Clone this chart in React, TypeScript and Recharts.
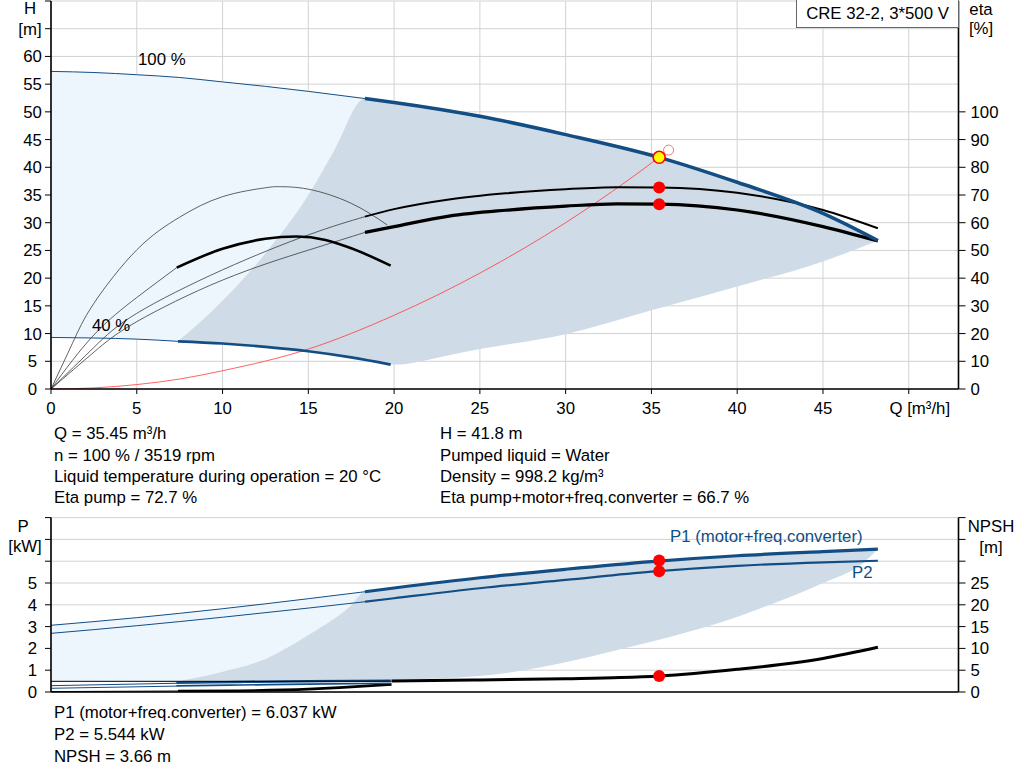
import React from 'react';
import { ComposedChart, Line, Area, XAxis, YAxis, CartesianGrid, ReferenceDot } from 'recharts';

const FONT = '"Liberation Sans", Arial, Helvetica, sans-serif';
const FS = 16.8;
const BLUE = '#124d84';
const LIGHT = '#eef6fd';
const DARK = '#cfdbe6';
const GRID = '#d2d2d2';
const THIN = '#3a3a3a';

// ---------- ticks ----------
const flowTicks = [0, 5, 10, 15, 20, 25, 30, 35, 40, 45, 50];
const headTicks = [0, 5, 10, 15, 20, 25, 30, 35, 40, 45, 50, 55, 60, 65, 70];
const etaTicks = [0, 10, 20, 30, 40, 50, 60, 70, 80, 90, 100];
const powerTicks = [0, 1, 2, 3, 4, 5, 6, 7, 8];
const npshTicks = [0, 5, 10, 15, 20, 25, 30, 35, 40];

// ---------- top chart: head curves (m) ----------
const qh100ThinQ = [0, 2.5, 5, 7.5, 10, 12.5, 15, 18.3];
const qh100ThinH = [57.3, 57.1, 56.7, 56.2, 55.4, 54.6, 53.7, 52.4];
const qh100Q = [18.3, 20, 25, 30, 35.45, 40, 45, 48.2];
const qh100H = [52.4, 51.7, 49.2, 45.9, 41.8, 37.3, 31.7, 26.8];
const qh40ThinQ = [0, 2.5, 5, 7.4];
const qh40ThinH = [9.3, 9.2, 9.0, 8.6];
const qh40Q = [7.4, 10, 12.5, 15, 17.5, 19.8];
const qh40H = [8.6, 8.2, 7.6, 6.8, 5.7, 4.4];

// ---------- top chart: efficiency curves (%) ----------
const etaPump40Q = [0, 1.25, 2.5, 5, 7.5, 10, 12.5, 13.3, 15, 17.5, 19.6];
const etaPump40 = [0, 16.5, 30.9, 50.2, 62.0, 69.4, 72.6, 73.0, 72.1, 67.0, 59.2];
const etaTot40ThinQ = [0, 2.5, 5, 7.33];
const etaTot40Thin = [0, 19.5, 33.0, 43.8];
const etaTot40Q = [7.33, 10, 12.5, 14.3, 16, 17.5, 19.8];
const etaTot40 = [43.8, 50.6, 54.2, 55.0, 53.8, 50.8, 44.5];
const etaPump100ThinQ = [0, 2.5, 5, 10, 15, 18.3];
const etaPump100Thin = [0, 15.0, 27.3, 43, 55.6, 62.2];
const etaPump100Q = [18.3, 20, 23.2, 26.5, 30, 33, 35.45, 40, 45, 48.2];
const etaPump100 = [62.2, 64.9, 68.4, 70.6, 72.1, 72.8, 72.7, 70.8, 64.6, 58.0];
const etaTot100ThinQ = [0, 2.5, 5, 10, 15, 18.3];
const etaTot100Thin = [0, 13.3, 24.3, 39.3, 50.1, 56.5];
const etaTot100Q = [18.3, 20, 23.2, 26.5, 30, 33, 35.45, 40, 45, 48.2];
const etaTot100 = [56.5, 58.6, 62.4, 64.5, 66.0, 66.8, 66.7, 64.6, 58.6, 53.4];

// ---------- system curve ----------
const sysQ = [0, 2.5, 5, 7.5, 10, 15, 20, 25, 30, 35.45, 36.0];
const sysH = [0, 0.2, 0.8, 1.8, 3.3, 7.2, 13.3, 20.9, 30.0, 41.8, 43.1];

// ---------- top chart: regions ----------
const lightQ = [0, 2.5, 5, 7.4, 9.65, 12.5, 15, 16.5, 18.3];
const lightLo = [9.3, 9.2, 9.0, 8.6, 14.85, 24.5, 35.0, 43.0, 52.4];
const lightHi = [57.3, 57.1, 56.7, 56.15, 55.5, 54.6, 53.7, 53.1, 52.4];
const darkQ = [7.4, 9.65, 12.5, 15, 16.5, 18.3, 20, 23.2, 25, 30, 35, 40, 45, 48.2];
const darkLo = [8.6, 8.3, 7.6, 6.8, 6.2, 5.3, 4.4, 6.1, 7.2, 9.9, 14.2, 18.5, 23.0, 26.8];
const darkHi = [8.6, 14.85, 24.5, 35.0, 43.0, 52.4, 51.7, 50.2, 49.2, 45.9, 42.2, 37.3, 31.7, 26.8];

// ---------- duty point ----------
const dutyQ = 35.45;
const dutyH = 41.8;
const dutyEtaPump = 72.7;
const dutyEtaTot = 66.7;
const reqQ = 36.0;
const reqH = 43.1;
const dutyP1 = 6.037;
const dutyP2 = 5.544;
const dutyNpsh = 3.66;

// ---------- bottom chart: power (kW) ----------
const p1ThinQ = [0, 5, 10, 15, 18.3];
const p1Thin = [3.06, 3.41, 3.82, 4.28, 4.6];
const p1Q = [18.3, 20, 25, 30, 35, 40, 45, 48.2];
const p1 = [4.6, 4.77, 5.24, 5.63, 5.98, 6.25, 6.44, 6.55];
const p2ThinQ = [0, 5, 10, 15, 18.3];
const p2Thin = [2.69, 3.04, 3.43, 3.85, 4.14];
const p2Q = [18.3, 20, 25, 30, 35, 40, 45, 48.2];
const p2 = [4.14, 4.3, 4.76, 5.14, 5.52, 5.79, 5.95, 6.02];
const p1MinThinQ = [0, 7.3];
const p1MinThin = [0.29, 0.4];
const p1MinQ = [7.3, 11, 15, 19.8];
const p1Min = [0.42, 0.46, 0.49, 0.52];
const p2MinThinQ = [0, 7.3];
const p2MinThin = [0.17, 0.27];
const p2MinQ = [7.3, 11, 15, 19.8];
const p2Min = [0.28, 0.32, 0.36, 0.4];

// ---------- bottom chart: NPSH (m) ----------
const npshThinQ = [0, 10, 19.85];
const npshThin = [2.45, 2.45, 2.48];
const npshQ = [19.85, 25, 30, 33.2, 35.45, 40, 45, 48.2];
const npsh = [2.5, 2.75, 3.05, 3.3, 3.66, 5.2, 7.7, 10.25];
const npshMinThinQ = [0, 7.4];
const npshMinThin = [0.1, 0.22];
const npshMinQ = [7.4, 11, 15, 16.8, 19.85];
const npshMin = [0.22, 0.3, 0.65, 1.0, 1.75];

// ---------- bottom chart: regions ----------
const lightBQ = [0, 5, 7.3, 9.65, 12.57, 15, 17.4, 18.3];
const lightBLo = [0.49, 0.49, 0.47, 0.86, 1.54, 2.61, 3.91, 4.6];
const lightBHi = [3.06, 3.41, 3.6, 3.78, 4.03, 4.28, 4.5, 4.6];
const darkBQ = [7.3, 9.65, 12.57, 15, 17.4, 18.3, 20, 25, 30, 32.6, 35.45, 39.2, 41.1, 45, 47.3, 48.2];
const darkBLo = [0.47, 0.47, 0.48, 0.49, 0.5, 0.51, 0.55, 0.73, 1.37, 1.85, 2.4, 3.23, 3.76, 5.0, 5.9, 6.55];
const darkBHi = [0.47, 0.86, 1.54, 2.61, 3.91, 4.6, 4.77, 5.24, 5.63, 5.83, 6.01, 6.2, 6.28, 6.44, 6.52, 6.55];

const zip = (q: number[], v: number[]) => q.map((x, i) => ({ q: x, v: v[i] }));
const zipRange = (q: number[], lo: number[], hi: number[]) =>
  q.map((x, i) => ({ q: x, r: [lo[i], hi[i]] }));

const txt = { fontFamily: FONT, fontSize: FS, fill: '#000' } as const;

const flowTick = (p: any) => {
  const v = p.payload.value;
  if (v === 50) {
    return (
      <text x={p.x + 11} y={p.y} dy="0.71em" textAnchor="middle" style={txt}>
        Q [m³/h]
      </text>
    );
  }
  return (
    <text x={p.x} y={p.y} dy="0.71em" textAnchor="middle" style={txt}>
      {v}
    </text>
  );
};

const leftTick = (max: number) => (p: any) => {
  const v = p.payload.value;
  if (v > max) return <g />;
  return (
    <text x={p.x - 10.5} y={p.y} dy="0.355em" textAnchor="middle" style={txt}>
      {v}
    </text>
  );
};

const rightTick = (max: number) => (p: any) => {
  const v = p.payload.value;
  if (v > max) return <g />;
  return (
    <text x={p.x} y={p.y} dy="0.355em" textAnchor="start" style={txt}>
      {v}
    </text>
  );
};

const axisLine = { stroke: '#000', strokeWidth: 1.6 };
const tickLine = { stroke: '#000', strokeWidth: 1 };

const line = (
  key: string,
  data: { q: number; v: number }[],
  stroke: string,
  width: number,
  yAxisId?: string,
  curve: 'monotone' | 'natural' = 'monotone'
) => (
  <Line
    key={key}
    data={data}
    dataKey="v"
    type={curve}
    stroke={stroke}
    strokeWidth={width}
    dot={false}
    activeDot={false}
    isAnimationActive={false}
    {...(yAxisId ? { yAxisId } : {})}
  />
);

const Label = ({ left, top, children, color = '#000', width, align }: any) => (
  <div
    style={{
      position: 'absolute',
      left,
      top,
      width,
      textAlign: align || 'left',
      fontFamily: FONT,
      fontSize: FS,
      lineHeight: '20px',
      color,
      whiteSpace: 'nowrap',
    }}
  >
    {children}
  </div>
);

function TopChart() {
  return (
    <ComposedChart width={1024} height={420} margin={{ top: 1, right: 0, bottom: 0, left: 0 }}>
      <CartesianGrid stroke={GRID} strokeWidth={1} />
      <XAxis
        dataKey="q"
        type="number"
        domain={[0, 52.9]}
        allowDataOverflow
        ticks={flowTicks}
        interval={0}
        height={31}
        tickSize={5}
        tickMargin={8}
        tick={flowTick}
        axisLine={axisLine}
        tickLine={tickLine}
      />
      <YAxis
        type="number"
        domain={[0, 70]}
        allowDataOverflow
        ticks={headTicks}
        interval={0}
        width={51}
        tickSize={6}
        tickMargin={2}
        tick={leftTick(60)}
        axisLine={axisLine}
        tickLine={tickLine}
      />
      <YAxis
        yAxisId="eta"
        orientation="right"
        type="number"
        domain={[0, 140]}
        allowDataOverflow
        ticks={etaTicks}
        interval={0}
        width={65.5}
        tickSize={7}
        tickMargin={5}
        tick={rightTick(100)}
        axisLine={axisLine}
        tickLine={tickLine}
      />
      <Area
        data={zipRange(lightQ, lightLo, lightHi)}
        dataKey="r"
        type="monotone"
        fill={LIGHT}
        fillOpacity={1}
        stroke="none"
        activeDot={false}
        isAnimationActive={false}
      />
      <Area
        data={zipRange(darkQ, darkLo, darkHi)}
        dataKey="r"
        type="monotone"
        fill={DARK}
        fillOpacity={1}
        stroke="none"
        activeDot={false}
        isAnimationActive={false}
      />
      {line('sys', zip(sysQ, sysH), '#ff3b3b', 0.8)}
      {line('ep40', zip(etaPump40Q, etaPump40), THIN, 0.8, 'eta', 'natural')}
      {line('et40t', zip(etaTot40ThinQ, etaTot40Thin), THIN, 0.8, 'eta', 'natural')}
      {line('ep100t', zip(etaPump100ThinQ, etaPump100Thin), THIN, 0.8, 'eta', 'natural')}
      {line('et100t', zip(etaTot100ThinQ, etaTot100Thin), THIN, 0.8, 'eta', 'natural')}
      {line('et40', zip(etaTot40Q, etaTot40), '#000', 2.6, 'eta')}
      {line('ep100', zip(etaPump100Q, etaPump100), '#000', 2, 'eta')}
      {line('et100', zip(etaTot100Q, etaTot100), '#000', 3.2, 'eta')}
      {line('qh100t', zip(qh100ThinQ, qh100ThinH), BLUE, 1)}
      {line('qh100', zip(qh100Q, qh100H), BLUE, 3.5)}
      {line('qh40t', zip(qh40ThinQ, qh40ThinH), BLUE, 1)}
      {line('qh40', zip(qh40Q, qh40H), BLUE, 2.6)}
      <ReferenceDot x={reqQ} y={reqH} r={5} fill="#ffffff" stroke="#ff7070" strokeWidth={1} />
      <ReferenceDot yAxisId="eta" x={dutyQ} y={dutyEtaPump} r={6} fill="#ff0000" stroke="none" />
      <ReferenceDot yAxisId="eta" x={dutyQ} y={dutyEtaTot} r={6} fill="#ff0000" stroke="none" />
      <ReferenceDot x={dutyQ} y={dutyH} r={6} fill="#ffff00" stroke="#ff0000" strokeWidth={1.6} />
    </ComposedChart>
  );
}

function BottomChart() {
  return (
    <ComposedChart width={1024} height={200} margin={{ top: 7.6, right: 0, bottom: 0, left: 0 }}>
      <CartesianGrid stroke={GRID} strokeWidth={1} />
      <XAxis
        dataKey="q"
        type="number"
        domain={[0, 52.9]}
        allowDataOverflow
        ticks={flowTicks}
        interval={0}
        height={18}
        tick={false}
        tickLine={false}
        axisLine={axisLine}
      />
      <YAxis
        type="number"
        domain={[0, 8]}
        allowDataOverflow
        ticks={powerTicks}
        interval={0}
        width={51}
        tickSize={6}
        tickMargin={2}
        tick={leftTick(5)}
        axisLine={axisLine}
        tickLine={tickLine}
      />
      <YAxis
        yAxisId="npsh"
        orientation="right"
        type="number"
        domain={[0, 40]}
        allowDataOverflow
        ticks={npshTicks}
        interval={0}
        width={65.5}
        tickSize={7}
        tickMargin={5}
        tick={rightTick(25)}
        axisLine={axisLine}
        tickLine={tickLine}
      />
      <Area
        data={zipRange(lightBQ, lightBLo, lightBHi)}
        dataKey="r"
        type="monotone"
        fill={LIGHT}
        fillOpacity={1}
        stroke="none"
        activeDot={false}
        isAnimationActive={false}
      />
      <Area
        data={zipRange(darkBQ, darkBLo, darkBHi)}
        dataKey="r"
        type="monotone"
        fill={DARK}
        fillOpacity={1}
        stroke="none"
        activeDot={false}
        isAnimationActive={false}
      />
      {line('npsh40t', zip(npshMinThinQ, npshMinThin), '#000', 1, 'npsh')}
      {line('npsh40', zip(npshMinQ, npshMin), '#000', 2.6, 'npsh')}
      {line('p2m_t', zip(p2MinThinQ, p2MinThin), BLUE, 1)}
      {line('p2m', zip(p2MinQ, p2Min), BLUE, 1.6)}
      {line('p1m_t', zip(p1MinThinQ, p1MinThin), BLUE, 1)}
      {line('p1m', zip(p1MinQ, p1Min), BLUE, 2.4)}
      {line('npsht', zip(npshThinQ, npshThin), '#000', 1, 'npsh')}
      {line('npsh', zip(npshQ, npsh), '#000', 3, 'npsh')}
      {line('p2t', zip(p2ThinQ, p2Thin), BLUE, 1)}
      {line('p2', zip(p2Q, p2), BLUE, 2.2)}
      {line('p1t', zip(p1ThinQ, p1Thin), BLUE, 1)}
      {line('p1', zip(p1Q, p1), BLUE, 3.2)}
      <ReferenceDot x={dutyQ} y={dutyP1} r={6} fill="#ff0000" stroke="none" />
      <ReferenceDot x={dutyQ} y={dutyP2} r={6} fill="#ff0000" stroke="none" />
      <ReferenceDot yAxisId="npsh" x={dutyQ} y={dutyNpsh} r={6} fill="#ff0000" stroke="none" />
    </ComposedChart>
  );
}

const infoLeft = [
  'Q = 35.45 m³/h',
  'n = 100 % / 3519 rpm',
  'Liquid temperature during operation = 20 °C',
  'Eta pump = 72.7 %',
];
const infoRight = [
  'H = 41.8 m',
  'Pumped liquid = Water',
  'Density = 998.2 kg/m³',
  'Eta pump+motor+freq.converter = 66.7 %',
];
const infoBottom = [
  'P1 (motor+freq.converter) = 6.037 kW',
  'P2 = 5.544 kW',
  'NPSH = 3.66 m',
];
const infoTops = [424, 445.5, 466.5, 487.5];
const bottomTops = [703, 725, 747];

export default function App() {
  return (
    <div
      style={{
        position: 'absolute',
        left: 0,
        top: 0,
        width: 1024,
        height: 781,
        background: '#fff',
        overflow: 'hidden',
        fontFamily: FONT,
      }}
    >
      <div style={{ position: 'absolute', left: 0, top: 0 }}>
        <TopChart />
      </div>
      <div style={{ position: 'absolute', left: 0, top: 510 }}>
        <BottomChart />
      </div>

      <div
        style={{
          position: 'absolute',
          left: 796,
          top: 0,
          width: 161,
          height: 27,
          border: '1px solid #666',
          borderTop: 'none',
          background: '#fff',
          fontFamily: FONT,
          fontSize: FS,
          lineHeight: '27px',
          textAlign: 'center',
          whiteSpace: 'nowrap',
        }}
      >
        CRE 32-2, 3*500 V
      </div>

      <Label left={10} top={-1} width={40} align="center">H</Label>
      <Label left={10} top={20} width={40} align="center">[m]</Label>
      <Label left={961} top={0} width={40} align="center">eta</Label>
      <Label left={961} top={19} width={40} align="center">[%]</Label>
      <Label left={138} top={50}>100 %</Label>
      <Label left={92} top={316}>40 %</Label>

      {infoLeft.map((s, i) => (
        <Label key={'l' + i} left={54} top={infoTops[i]}>{s}</Label>
      ))}
      {infoRight.map((s, i) => (
        <Label key={'r' + i} left={440} top={infoTops[i]}>{s}</Label>
      ))}

      <Label left={3} top={517} width={40} align="center">P</Label>
      <Label left={5} top={537} width={40} align="center">[kW]</Label>
      <Label left={961} top={517} width={60} align="center">NPSH</Label>
      <Label left={961} top={538} width={60} align="center">[m]</Label>
      <Label left={670} top={527} color={BLUE}>P1 (motor+freq.converter)</Label>
      <Label left={852} top={563} color={BLUE}>P2</Label>

      {infoBottom.map((s, i) => (
        <Label key={'b' + i} left={54} top={bottomTops[i]}>{s}</Label>
      ))}
    </div>
  );
}
